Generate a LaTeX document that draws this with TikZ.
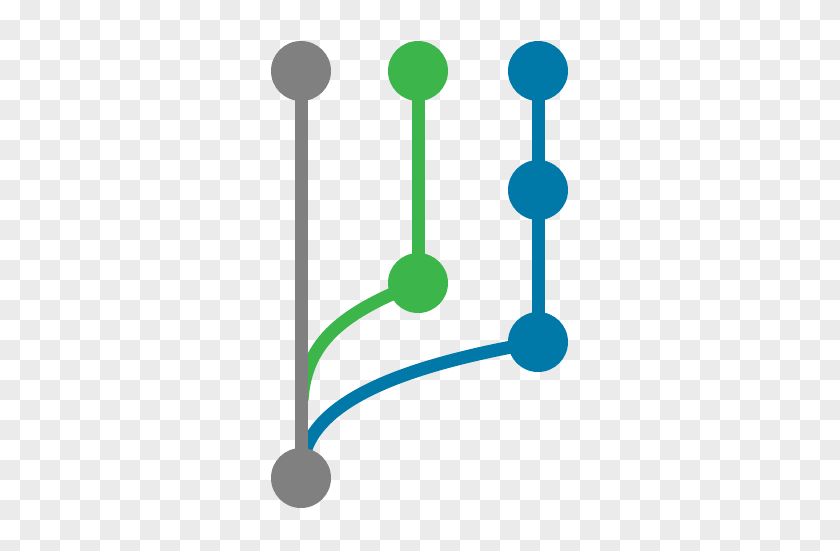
\documentclass[tikz,border=0pt]{standalone}
\usetikzlibrary{backgrounds}
\definecolor{cgray}{HTML}{808080}
\definecolor{cgreen}{HTML}{3CB54B}
\definecolor{cblue}{HTML}{0079A8}
\definecolor{checker}{HTML}{EBEBEB}
\pgfdeclarelayer{board}
\pgfdeclarelayer{links}
\pgfsetlayers{board,links,main}
\tikzset{
  dot/.style={circle, fill=#1, draw=none, minimum size=60pt, inner sep=0pt},
  link/.style={line width=13pt, draw=#1},
}
\begin{document}
\begin{tikzpicture}[x=1pt,y=-1pt]
\useasboundingbox (0,0) rectangle (840,550);
\begin{pgfonlayer}{board}
  \fill[white] (0,0) rectangle (840,550);
  \foreach \r in {0,2,...,26} {
    \foreach \c in {1,3,...,41} {
      \fill[checker] (\c*20,\r*20) rectangle ++(20,20);
    }
  }
  \foreach \r in {1,3,...,27} {
    \foreach \c in {0,2,...,40} {
      \fill[checker] (\c*20,\r*20) rectangle ++(20,20);
    }
  }
\end{pgfonlayer}
% commits
\node[dot=cgray]  (g1) at (301,71) {};
\node[dot=cgray]  (g2) at (301,478) {};
\node[dot=cgreen] (n1) at (418,71) {};
\node[dot=cgreen] (n2) at (418,283) {};
\node[dot=cblue]  (b1) at (538,71) {};
\node[dot=cblue]  (b2) at (538,190) {};
\node[dot=cblue]  (b3) at (538,342) {};
\coordinate (gm) at (302,400);
\coordinate (bm) at (302,468);
\begin{pgfonlayer}{links}
  \draw[link=cgreen] (n2.center) .. controls (345,312) and (306,340) .. (gm);
  \draw[link=cblue] (b3.center) .. controls (425,362) and (306,395) .. (bm);
  \draw[link=cgray] (g1.center) -- (g2.center);
  \draw[link=cgreen] (n1.center) -- (n2.center);
  \draw[link=cblue] (b1.center) -- (b2.center) -- (b3.center);
\end{pgfonlayer}
\end{tikzpicture}
\end{document}
